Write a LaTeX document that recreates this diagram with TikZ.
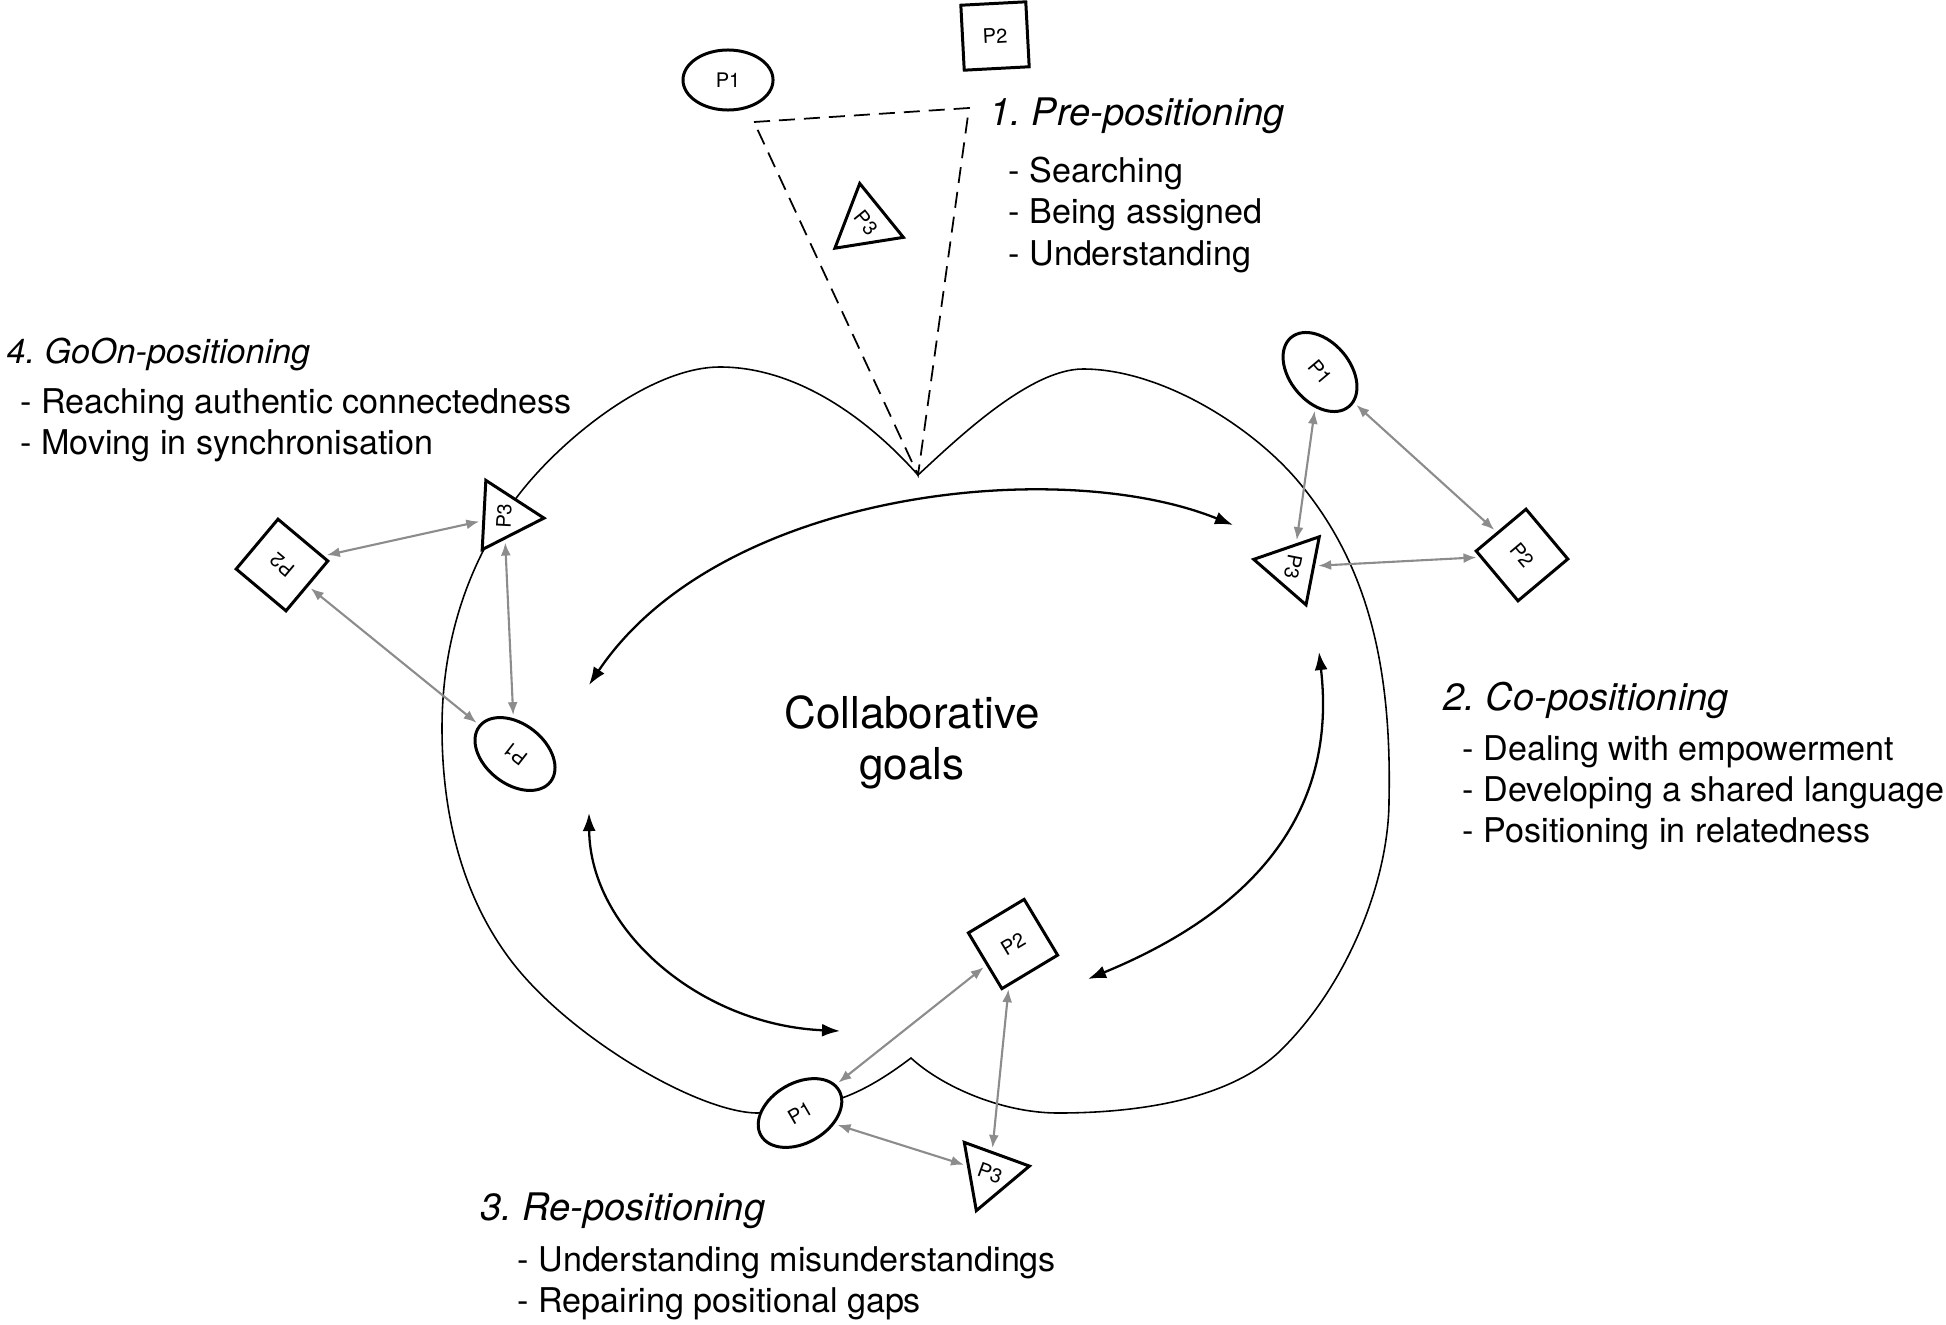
\documentclass[tikz,border=0pt]{standalone}
\usepackage{fontspec}
\setmainfont{TeX Gyre Heros}
\usepackage{xcolor}
\usepackage{tikz}
\usetikzlibrary{positioning, shapes.geometric, arrows.meta}
\frenchspacing

\definecolor{linkgray}{HTML}{8C8C8C}

\tikzset{
    person/.style={draw=black, line width=0.85pt, fill=white, inner sep=0pt,
        font=\fontsize{5.7pt}{6pt}\selectfont},
    pone/.style={person, ellipse, minimum width=0.9cm, minimum height=0.6cm},
    ptwo/.style={person, rectangle, minimum size=0.65cm},
    pthree/.style={person, regular polygon, regular polygon sides=3,
        shape border rotate=180, minimum size=0.8cm},
    link/.style={linkgray, line width=0.6pt,
        {Latex[length=0.13cm,width=0.1cm]}-{Latex[length=0.13cm,width=0.1cm]},
        shorten <=0.03cm, shorten >=0.03cm},
    flow/.style={black, line width=0.65pt,
        {Latex[length=0.18cm,width=0.13cm]}-{Latex[length=0.18cm,width=0.13cm]}},
    phase/.style={anchor=base west, inner sep=0pt,
        font=\fontsize{10.8pt}{13pt}\selectfont\itshape},
    item/.style={anchor=base west, inner sep=0pt,
        font=\fontsize{9.7pt}{12pt}\selectfont},
}

\begin{document}
\begin{tikzpicture}[x=0.01cm, y=-0.01cm]
    \useasboundingbox (0,0) rectangle (1946,1324);

    % outline
    \coordinate (notch) at (918,475);
    \draw[line width=0.45pt] (notch)
        .. controls (860,410) and (790,367) .. (720,367)
        .. controls (650,367) and (560,440) .. (517,497)
        .. controls (475,552) and (442,630) .. (442,728)
        .. controls (442,830) and (470,910) .. (516,967)
        .. controls (576,1041) and (700,1113) .. (758,1113)
        -- (842,1098)
        .. controls (870,1088) and (895,1070) .. (911,1058)
        .. controls (940,1085) and (1000,1113) .. (1058,1113)
        .. controls (1120,1113) and (1225,1105) .. (1281,1050)
        .. controls (1348,984) and (1389,880) .. (1389,800)
        .. controls (1392,660) and (1365,560) .. (1297,480)
        .. controls (1250,425) and (1160,369) .. (1083,369)
        .. controls (1030,369) and (958,438) .. (notch);

    % dashed view
    \coordinate (dl) at (754,122);
    \coordinate (dr) at (969,108);
    \draw[line width=0.5pt, dash pattern=on 0.16cm off 0.09cm] (dl) -- (dr) -- (notch) -- cycle;

    % inner flow
    \coordinate (t1) at (589,685);
    \coordinate (t2) at (1233,525);
    \coordinate (r1) at (1319,652);
    \coordinate (r2) at (1088,979);
    \coordinate (l1) at (589,813);
    \coordinate (l2) at (840,1031);
    \draw[flow] (t1) .. controls (720,490) and (1060,455) .. (t2);
    \draw[flow] (r1) .. controls (1335,790) and (1280,900) .. (r2);
    \draw[flow] (l1) .. controls (590,930) and (700,1025) .. (l2);

    \node[align=center, font=\fontsize{12.5pt}{14.5pt}\selectfont] (goal) at (912,742) {Collaborative\\goals};

    % phase 1
    \node[pone] (p1a) at (728,80) {P1};
    \node[ptwo, rotate=3] (p2a) at (995,36) {P2};
    \node[pthree, rotate=-51] (p3a) at (866,223) {P3};
    % phase 2
    \node[pone, rotate=-50] (p1b) at (1320,372) {P1};
    \node[pthree, rotate=-101] (p3b) at (1293,567) {P3};
    \node[ptwo, rotate=-50] (p2b) at (1522,555) {P2};
    % phase 3
    \node[pone, rotate=30] (p1c) at (800,1113) {P1};
    \node[ptwo, rotate=31] (p2c) at (1013,944) {P2};
    \node[pthree, rotate=-20] (p3c) at (990,1173) {P3};
    % phase 4
    \node[ptwo, rotate=140] (p2d) at (282,565) {P2};
    \node[pthree, rotate=87] (p3d) at (504,516) {P3};
    \node[pone, rotate=142] (p1d) at (515,754) {P1};

    % links
    \draw[link] (p1b) -- (p3b);
    \draw[link] (p1b) -- (p2b);
    \draw[link] (p3b) -- (p2b);
    \draw[link] (p1c) -- (p2c);
    \draw[link] (p2c) -- (p3c);
    \draw[link] (p1c) -- (p3c);
    \draw[link] (p2d) -- (p3d);
    \draw[link] (p2d) -- (p1d);
    \draw[link] (p3d) -- (p1d);

    % texts
    \node[phase] (ph1) at (989,125) {1. Pre-positioning};
    \node[item] (ph1a) at (1008,182) {- Searching};
    \node[item] (ph1b) at (1008,223) {- Being assigned};
    \node[item] (ph1c) at (1008,265) {- Understanding};

    \node[phase] (ph2) at (1443,710) {2. Co-positioning};
    \node[item] (ph2a) at (1462,760) {- Dealing with empowerment};
    \node[item] (ph2b) at (1462,801) {- Developing a shared language};
    \node[item] (ph2c) at (1462,842) {- Positioning in relatedness};

    \node[phase] (ph3) at (480,1220) {3. Re-positioning};
    \node[item] (ph3a) at (517,1271) {- Understanding misunderstandings};
    \node[item] (ph3b) at (517,1312) {- Repairing positional gaps};

    \node[phase, font=\fontsize{9.7pt}{12pt}\selectfont\itshape] (ph4) at (6,363) {4. GoOn-positioning};
    \node[item] (ph4a) at (20,413) {- Reaching authentic connectedness};
    \node[item] (ph4b) at (20,454) {- Moving in synchronisation};
\end{tikzpicture}
\end{document}
